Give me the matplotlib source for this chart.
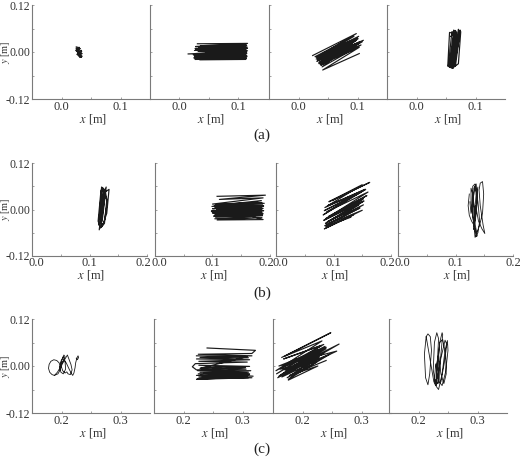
import matplotlib
matplotlib.use('Agg')
import matplotlib.pyplot as plt

plt.rcParams['font.family'] = ['Liberation Serif', 'DejaVu Serif']
plt.rcParams['mathtext.fontset'] = 'stix'

W, H = 520, 458
GREY = '#7a7a7a'
TXT = '#333333'

# trajectories, one pair of lists per panel
a1_x = [.025,.030,.026,.032,.027,.034,.028,.035,.030,.034,.026,.031,.024,.030,.027,.035,.031,.025,.029,.034]
a1_y = [.013,.011,.006,.009,.002,.004,-.002,-.004,-.008,-.013,-.006,-.002,.004,.012,.000,-.011,-.014,.010,-.010,.001]

a2_x = [.031,.116,.036,.114,.028,.115,.033,.113,.027,.116,.030,.112,.026,.114,.032,.116,.015,.113,.028,.115,
        .024,.112,.030,.114,.026,.113,.029,.115,.025,.112,.031,.114,.027,.113,.030,.115,.035,.113,.028,.114]
a2_y = [.021,.022,.016,.018,.014,.015,.011,.012,.009,.010,.007,.008,.004,.005,.002,.003,-.005,-.002,-.004,-.003,
        -.007,-.006,-.009,-.008,-.011,-.010,-.013,-.012,-.015,-.013,-.017,-.016,-.019,-.018,-.012,-.010,-.020,-.019,.006,.001]

a3_x = [.024,.098,.030,.102,.032,.110,.036,.103,.030,.094,.028,.100,.034,.108,.038,.096,.031,.104,.035,.092,
        .033,.101,.040,.106,.032,.098,.037,.103,.041,.103]
a3_y = [-.009,.047,-.014,.040,-.020,.030,-.026,.022,-.018,.040,-.012,.036,-.028,.026,-.034,.014,-.024,.026,-.030,.008,
        -.016,.034,-.038,.018,-.022,.030,-.032,.012,-.046,-.004]

a4_x = [.056,.064,.060,.054,.058,.066,.063,.056,.060,.068,.066,.058,.062,.072,.071,.063,.066,.074,.073,.064,
        .068,.075,.071,.062,.067,.056,.053,.060,.065,.058]
a4_y = [-.038,.048,.052,-.036,-.040,.052,.056,-.034,-.041,.050,.055,-.038,-.042,.054,.058,-.030,-.036,.056,.040,-.036,
        .020,.052,-.030,-.040,.046,.050,-.036,-.040,.048,.040]

b1_x = [.117,.124,.129,.122,.116,.121,.127,.131,.126,.119,.115,.120,.128,.134,.130,.122,.118,.123,.130,.126,.120,.124,.128,.122]
b1_y = [-.052,.040,.058,-.030,-.040,.058,.050,.020,-.030,-.048,-.030,.050,.046,.052,-.010,-.044,-.020,.056,.024,-.036,-.046,.030,.050,-.020]

b2_x = [.108,.192,.112,.188,.100,.186,.106,.190,.099,.187,.104,.189,.100,.185,.107,.188,.098,.186,.103,.189,
        .100,.185,.105,.187,.099,.184,.104,.188,.102,.186,.105,.187,.104,.186,.108,.188,.103,.185,.106,.188]
b2_y = [.034,.037,.026,.030,.014,.018,.012,.016,.008,.012,.005,.009,.002,.006,-.001,.003,-.004,.000,-.007,-.003,
        -.009,-.006,-.011,-.009,-.006,-.012,-.014,-.011,-.017,-.014,-.019,-.016,-.024,-.021,-.027,-.026,.010,.023,-.003,.009]

b3_x = [.098,.163,.092,.150,.085,.155,.090,.147,.084,.140,.082,.156,.088,.160,.094,.152,.086,.158,.091,.150,
        .083,.148,.089,.153,.086,.144,.092,.152,.085,.146,.090,.150,.084,.135,.087,.130]
b3_y = [.023,.070,.020,.064,.005,.052,.010,.044,-.003,.040,-.014,.052,-.006,.045,-.017,.028,-.024,.036,-.018,.022,
        -.028,.018,-.032,.022,-.036,.012,-.030,.012,-.042,.004,-.038,-.002,-.050,-.014,-.044,-.020]

b4_x = [.124,.122,.124,.128,.132,.134,.130,.127,.127,.130,.134,.138,.136,.131,.129,.130,.134,.139,.142,.139,
        .134,.132,.135,.140,.146,.151,.148,.143,.141,.143,.147,.149,.147,.142,.137,.133,.131,.132,.136,.138,
        .135,.132,.133,.137,.139,.136,.133,.132,.135,.137,.134,.130,.127,.125]
b4_y = [.040,.010,-.015,-.030,-.040,-.010,.040,.055,.020,-.020,-.050,-.068,-.070,-.030,.020,.060,.066,.020,-.030,-.060,
        -.072,-.040,.010,-.030,-.050,-.062,-.040,.010,.050,.068,.072,.040,-.010,-.040,-.060,-.030,.020,.055,.066,.020,
        -.020,-.052,-.030,.020,.058,.040,-.010,-.044,-.020,.030,.060,.020,-.010,.020]

c1_x = [.188,.194,.197,.198,.196,.192,.187,.182,.179,.178,.180,.184,.188,.193,.197,.199,.203,.206,.204,.200,
        .197,.199,.203,.207,.206,.203,.199,.197,.201,.206,.210,.213,.216,.218,.215,.211,.209,.206,.202,.199,
        .204,.208,.213,.217,.219,.221,.223,.224,.226,.228,.229,.227,.225]
c1_y = [-.024,-.020,-.012,-.002,.008,.014,.016,.012,.004,-.006,-.016,-.022,-.024,-.016,-.006,.004,.012,.024,.028,.012,
        -.004,-.016,-.020,-.008,.012,.024,.012,-.010,.004,.018,.028,.016,.004,-.010,-.022,-.020,-.015,-.018,-.012,.002,
        .016,.008,-.008,-.020,-.024,-.018,-.004,.008,.020,.026,.022,.016,.020]

c2_x = [.240,.322,.316,.225,.316,.228,.310,.222,.312,.226,.308,.220,.215,.222,.305,.226,.312,.230,.306,.224,
        .314,.228,.310,.225,.305,.222,.318,.235,.312,.226,.308,.222,.316,.228,.310,.224,.312,.228,.308,.222]
c2_y = [.046,.040,.032,.030,.026,.022,.021,.018,.016,.012,.010,.006,-.002,-.010,-.004,.002,-.001,-.004,-.008,-.012,
        -.012,-.016,-.016,-.020,-.020,-.024,-.026,-.018,-.022,-.028,-.028,-.034,-.030,-.024,-.030,-.032,-.020,-.006,.024,.026]

c3_x = [.165,.248,.170,.233,.155,.236,.168,.232,.156,.226,.160,.240,.172,.262,.165,.258,.160,.230,.158,.236,
        .170,.240,.162,.228,.176,.246,.168,.232,.174,.224,.162,.238,.176,.226,.178,.240]
c3_y = [.022,.085,.025,.064,-.012,.055,.018,.052,-.020,.042,-.026,.048,-.012,.056,-.028,.038,.000,.042,-.030,.032,
        -.010,.044,-.024,.022,-.034,.030,-.018,.030,-.030,.010,-.008,.050,-.036,.000,-.024,.014]

c4_x = [.213,.210,.212,.216,.219,.222,.220,.216,.213,.226,.229,.232,.234,.231,.227,.225,.229,.234,.238,.241,
        .240,.236,.232,.230,.234,.240,.245,.249,.250,.246,.240,.235,.233,.236,.241,.246,.247,.243,.238,.234,
        .230,.232,.238,.244,.248,.245,.238,.232,.227,.229]
c4_y = [.075,.030,-.030,-.048,-.020,.040,.075,.082,.075,-.040,-.050,.010,.070,.085,.060,-.010,-.050,-.040,.030,.080,
        .085,.060,-.010,-.052,-.060,-.020,.040,.065,.040,-.015,-.050,-.040,.010,.060,.068,.030,-.020,-.045,-.020,.030,
        .000,-.045,-.040,.010,.055,.066,.020,-.030,-.040,.005]

rows = [
    {'top': 5, 'bottom': 99, 'xlim': (-.05, .15), 'ticks': [0.0, 0.1], 'minor': [.05],
     'lefts': [32, 149.6, 269, 387], 'width': 118, 'tick_y': 107, 'lab_y': 119, 'cap': '(a)', 'cap_y': 135,
     'data': [(a1_x, a1_y), (a2_x, a2_y), (a3_x, a3_y), (a4_x, a4_y)]},
    {'top': 163, 'bottom': 256, 'xlim': (0, .2), 'ticks': [0.0, 0.1, 0.2], 'minor': [.05, .15],
     'lefts': [32, 155, 276, 398], 'width': 115, 'tick_y': 263, 'lab_y': 275, 'cap': '(b)', 'cap_y': 293,
     'data': [(b1_x, b1_y), (b2_x, b2_y), (b3_x, b3_y), (b4_x, b4_y)]},
    {'top': 319, 'bottom': 413, 'xlim': (.15, .35), 'ticks': [0.2, 0.3], 'minor': [.25],
     'lefts': [32, 154, 273, 389], 'width': 118, 'tick_y': 421, 'lab_y': 433, 'cap': '(c)', 'cap_y': 449,
     'data': [(c1_x, c1_y), (c2_x, c2_y), (c3_x, c3_y), (c4_x, c4_y)]},
]

fig = plt.figure(figsize=(W / 100, H / 100), dpi=100)

for row in rows:
    for i, (xs, ys) in enumerate(row['data']):
        left = row['lefts'][i]
        ax = fig.add_axes([left / W, 1 - row['bottom'] / H, row['width'] / W,
                           (row['bottom'] - row['top']) / H])
        ax.patch.set_alpha(0)
        # lw is thin for the sparse panels and thicker for the packed ones
        lw = 0.6 if xs is c1_x or xs is c4_x or xs is b4_x else 0.85
        ax.plot(xs, ys, color='#1a1a1a', lw=lw, solid_joinstyle='round')
        ax.set_xlim(row['xlim'])
        ax.set_ylim(-.12, .12)
        ax.spines['top'].set_visible(False)
        ax.spines['right'].set_visible(False)
        ax.spines['left'].set_color(GREY)
        ax.spines['bottom'].set_color(GREY)
        ax.set_xticks(row['ticks'])
        ax.set_xticks(row['minor'], minor=True)
        ax.set_yticks([-.12, 0, .12])
        ax.set_yticks([-.06, .06], minor=True)
        ax.tick_params(which='both', direction='in', length=1.2, width=0.5, color=GREY,
                       labelsize=8.5, labelcolor=TXT, pad=0)
        ax.set_xticklabels([])
        if i == 0:
            ax.set_yticklabels(['-0.12', '0.00', '0.12'])
            ax.tick_params(axis='y', pad=1.5)
            fig.text(5 / W, 1 - (row['top'] + row['bottom']) / 2 / H, '$y$ [m]', rotation=90,
                     ha='center', va='center', fontsize=7.5, color=TXT)
        else:
            ax.set_yticklabels([])
        # tick labels sit at fixed pixel rows, different for each block
        for t in row['ticks']:
            px = left + row['width'] * (t - row['xlim'][0]) / (row['xlim'][1] - row['xlim'][0])
            # block (b): neighbouring 0.2 and 0.0 labels nearly meet, nudge them apart
            if row['cap'] == '(b)' and t == 0.2 and i < 3:
                px -= 4
            if row['cap'] == '(b)' and t == 0.0:
                px += 4
            fig.text(px / W, 1 - row['tick_y'] / H, '%.1f' % t, ha='center', va='center',
                     fontsize=9, color=TXT)
        fig.text((left + row['width'] * 0.5 + 2) / W, 1 - row['lab_y'] / H, '$x$ [m]',
                 ha='center', va='center', fontsize=9, color=TXT)
    fig.text(262 / W, 1 - row['cap_y'] / H, row['cap'], ha='center', va='center',
             fontsize=11, color='#222222')

fig.savefig('out.png', dpi=100)
